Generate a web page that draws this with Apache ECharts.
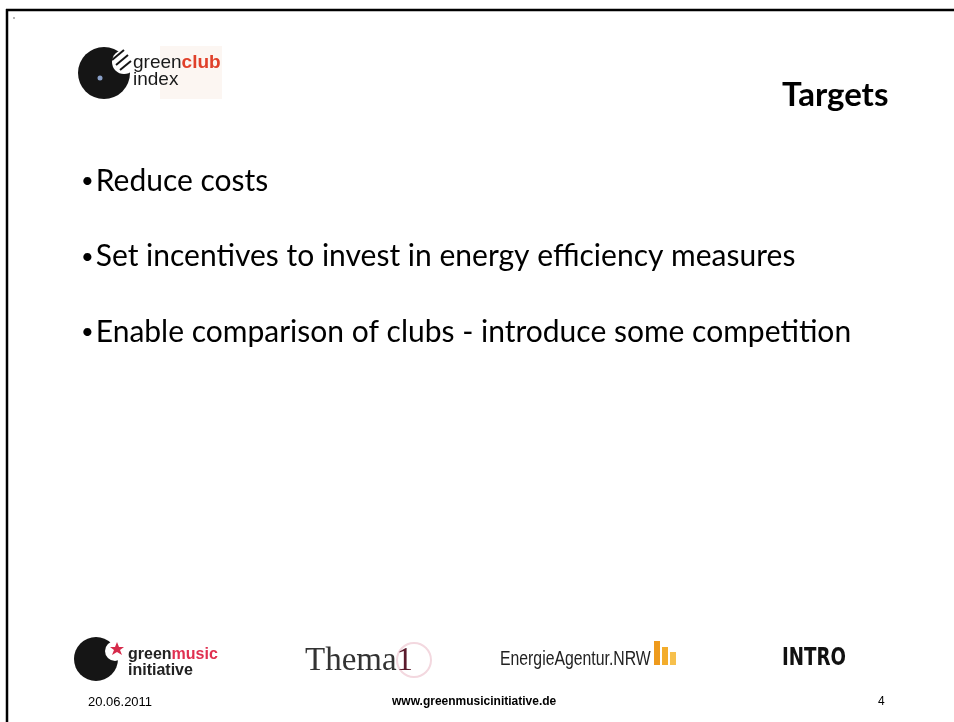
<!DOCTYPE html>
<html>
<head>
<meta charset="utf-8">
<script src="https://cdn.jsdelivr.net/npm/echarts@6/dist/echarts.min.js"></script>
<style>
  html, body { margin: 0; padding: 0; background: #fff; }
  #chart { width: 954px; height: 722px; }
</style>
</head>
<body>
<div id="chart"></div>
<script>
// slide content
const slideTitle = 'Targets';
const bullets = [
  'Reduce costs',
  'Set incentives to invest in energy efficiency measures',
  'Enable comparison of clubs - introduce some competition'
];
const footerDate = '20.06.2011';
const footerUrl = 'www.greenmusicinitiative.de';
const pageNo = '4';
const partners = ['Thema', '1', 'EnergieAgentur.NRW', 'intro'];

const chart = echarts.init(document.getElementById('chart'));

const bodyFont = 'Lato, "Open Sans", sans-serif';
const footFont = '"Liberation Sans", Arial, sans-serif';

// plain text helper, y is the vertical middle
function txt(x, y, text, font, fill, extra) {
  return Object.assign({
    type: 'text', x: x, y: y,
    style: { text: text, font: font, fill: fill || '#000', verticalAlign: 'middle' }
  }, extra || {});
}

// bullets
const bulletEls = bullets.map((b, i) => ({
  type: 'text', x: 81, y: 181 + i * 75.5,
  style: {
    text: '{b|\u2022}{t|' + b + '}',
    verticalAlign: 'middle',
    rich: {
      b: { font: '22px ' + bodyFont, fill: '#000', padding: [0, 2, 0, 0] },
      t: { font: '30px ' + bodyFont, fill: '#000' }
    }
  }
}));

// greenclub index logo (top left)
const clubLogo = [
  { type: 'rect', shape: { x: 160, y: 46, width: 62, height: 53 }, style: { fill: '#fcf6f2' } },
  { type: 'circle', shape: { cx: 104, cy: 73, r: 26 }, style: { fill: '#151515' } },
  { type: 'circle', shape: { cx: 124, cy: 62, r: 12 }, style: { fill: '#fff' } },
  { type: 'line', shape: { x1: 112, y1: 60, x2: 124, y2: 50 }, style: { stroke: '#151515', lineWidth: 2 } },
  { type: 'line', shape: { x1: 116, y1: 65, x2: 128, y2: 55 }, style: { stroke: '#151515', lineWidth: 2 } },
  { type: 'line', shape: { x1: 120, y1: 70, x2: 131, y2: 61 }, style: { stroke: '#151515', lineWidth: 2 } },
  { type: 'circle', shape: { cx: 100, cy: 78, r: 2.5 }, style: { fill: '#8aa0c8' } },
  {
    type: 'text', x: 133, y: 71,
    style: {
      text: '{g|green}{c|club}\n{g|index}',
      verticalAlign: 'middle',
      rich: {
        g: { font: '19px ' + footFont, fill: '#1a1a1a', lineHeight: 17 },
        c: { font: 'bold 19px ' + footFont, fill: '#e0402a', lineHeight: 17 }
      }
    }
  }
];

// greenmusic initiative logo (bottom left)
const musicLogo = [
  { type: 'circle', shape: { cx: 96, cy: 659, r: 22 }, style: { fill: '#151515' } },
  { type: 'circle', shape: { cx: 115, cy: 651, r: 10 }, style: { fill: '#fff' } },
  {
    type: 'polygon',
    shape: { points: [[117, 642], [119, 647], [124, 647], [120, 650], [122, 655], [117, 652], [112, 655], [114, 650], [110, 647], [115, 647]] },
    style: { fill: '#d62a4a' }
  },
  {
    type: 'text', x: 128, y: 663,
    style: {
      text: '{g|green}{m|music}\n{g|initiative}',
      verticalAlign: 'middle',
      rich: {
        g: { font: 'bold 16px ' + footFont, fill: '#222', lineHeight: 16 },
        m: { font: 'bold 16px ' + footFont, fill: '#e03050', lineHeight: 16 }
      }
    }
  }
];

const partnerEls = [
  { type: 'circle', shape: { cx: 414, cy: 660, r: 17 }, style: { fill: 'none', stroke: '#f3d8df', lineWidth: 2 } },
  {
    type: 'text', x: 305, y: 661,
    style: {
      text: '{a|' + partners[0] + '}{b|' + partners[1] + '}',
      verticalAlign: 'middle',
      rich: {
        a: { font: '33px "Liberation Serif", serif', fill: '#333' },
        b: { font: '33px "Liberation Serif", serif', fill: '#5a1a2c' }
      }
    }
  },
  txt(500, 659, partners[2], '20px "Liberation Sans", sans-serif', '#222', { scaleX: 0.79 }),
  { type: 'rect', shape: { x: 654, y: 641, width: 6, height: 24 }, style: { fill: '#ee9a1c' } },
  { type: 'rect', shape: { x: 662, y: 647, width: 6, height: 18 }, style: { fill: '#f3ad2c' } },
  { type: 'rect', shape: { x: 670, y: 652, width: 6, height: 13 }, style: { fill: '#f7c04c' } },
  txt(782, 659, partners[3].toUpperCase(), '900 24px "DejaVu Sans", sans-serif', '#111', { scaleX: 0.76 })
];

const option = {
  backgroundColor: '#fff',
  animation: false,
  graphic: [
    // slide frame (top and left edge)
    { type: 'line', shape: { x1: 6, y1: 10, x2: 954, y2: 10 }, style: { stroke: '#000', lineWidth: 2.5 } },
    { type: 'line', shape: { x1: 7, y1: 9, x2: 7, y2: 722 }, style: { stroke: '#000', lineWidth: 2.5 } },
    { type: 'circle', shape: { cx: 14, cy: 18, r: 0.7 }, style: { fill: '#333' } },
    txt(782, 95, slideTitle, 'bold 33px ' + bodyFont),
    ...clubLogo,
    ...bulletEls,
    ...musicLogo,
    ...partnerEls,
    txt(88, 702, footerDate, '13px ' + footFont),
    txt(392, 702, footerUrl, 'bold 12px ' + footFont),
    txt(878, 702, pageNo, '12px ' + footFont)
  ]
};

chart.setOption(option);
</script>
</body>
</html>
